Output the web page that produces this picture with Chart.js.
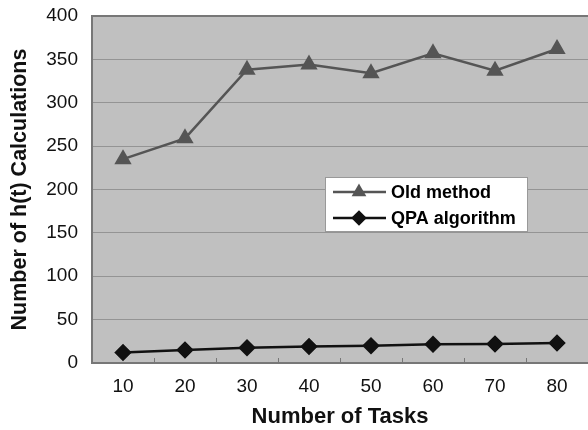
<!DOCTYPE html>
<html lang="en">
<head>
    <meta charset="UTF-8">
    <title>Number of h(t) Calculations</title>
    <script src="https://cdn.jsdelivr.net/npm/chart.js"></script>
    <style>
        html, body {
            margin: 0;
            overflow: hidden;
            background-color: white;
        }
        .chart-container {
            position: relative;
            width: 588px;
            height: 430px;
        }
    </style>
</head>
<body>
    <div class="chart-container">
        <canvas id="chart"></canvas>
    </div>

    <script>
        // Data
        const taskCounts = ['10', '20', '30', '40', '50', '60', '70', '80'];
        const oldMethod = [235, 259, 338, 344, 334, 357, 337, 362];
        const qpaAlgorithm = [12, 15, 17.5, 19, 20, 21.5, 22, 23];
        const yTicks = [0, 50, 100, 150, 200, 250, 300, 350, 400];

        const fontFamily = "'Liberation Sans', Arial, sans-serif";

        // Gray plot background, top border and small inner tick marks
        const plotDecor = {
            id: 'plotDecor',
            beforeDraw(chart) {
                const { ctx, chartArea: a } = chart;
                ctx.save();
                ctx.fillStyle = '#c0c0c0';
                ctx.fillRect(a.left, a.top, a.right - a.left, a.bottom - a.top);
                ctx.restore();
            },
            afterDatasetsDraw(chart) {
                const { ctx, chartArea: a, scales } = chart;
                const x = scales.x;
                const half = (x.getPixelForValue(1) - x.getPixelForValue(0)) / 2;
                ctx.save();
                ctx.strokeStyle = '#777';
                ctx.lineWidth = 1;
                for (let i = 1; i < taskCounts.length; i++) {
                    const px = Math.round(x.getPixelForValue(i) - half) + 0.5;
                    ctx.beginPath();
                    ctx.moveTo(px, a.bottom);
                    ctx.lineTo(px, a.bottom - 5);
                    ctx.stroke();
                }
                ctx.lineWidth = 2;
                ctx.beginPath();
                ctx.moveTo(a.left, a.top);
                ctx.lineTo(a.right, a.top);
                ctx.stroke();
                ctx.restore();
            }
        };

        // Legend box inside the plot area
        const innerLegend = {
            id: 'innerLegend',
            afterDraw(chart) {
                const { ctx } = chart;
                const left = 325, top = 177, w = 202, h = 54;
                ctx.save();
                ctx.fillStyle = 'white';
                ctx.fillRect(left, top, w, h);
                ctx.strokeStyle = '#999';
                ctx.lineWidth = 1;
                ctx.strokeRect(left + 0.5, top + 0.5, w, h);
                chart.data.datasets.forEach((ds, i) => {
                    const cy = top + 15 + i * 26;
                    ctx.strokeStyle = ds.borderColor;
                    ctx.lineWidth = 2.5;
                    ctx.beginPath();
                    ctx.moveTo(333, cy);
                    ctx.lineTo(386, cy);
                    ctx.stroke();
                    ctx.fillStyle = ds.pointBackgroundColor;
                    ctx.strokeStyle = ds.pointBorderColor;
                    Chart.helpers.drawPoint(ctx, {
                        pointStyle: ds.pointStyle,
                        radius: 6,
                        borderWidth: 1
                    }, 359, cy);
                    ctx.fillStyle = 'black';
                    ctx.font = 'bold 18px ' + fontFamily;
                    ctx.textBaseline = 'middle';
                    ctx.fillText(ds.label, 391, cy + 1);
                });
                ctx.restore();
            }
        };

        const chart = new Chart(document.getElementById('chart'), {
            type: 'line',
            data: {
                labels: taskCounts,
                datasets: [
                    {
                        label: 'Old method',
                        data: oldMethod,
                        borderColor: '#555555',
                        backgroundColor: '#555555',
                        pointBackgroundColor: '#555555',
                        pointBorderColor: '#555555',
                        pointStyle: 'triangle',
                        pointRadius: 7.5,
                        borderWidth: 2.5,
                        tension: 0
                    },
                    {
                        label: 'QPA algorithm',
                        data: qpaAlgorithm,
                        borderColor: '#111111',
                        backgroundColor: '#111111',
                        pointBackgroundColor: '#111111',
                        pointBorderColor: '#111111',
                        pointStyle: 'rectRot',
                        pointRadius: 7,
                        borderWidth: 2.5,
                        tension: 0
                    }
                ]
            },
            options: {
                responsive: true,
                maintainAspectRatio: false,
                animation: false,
                layout: {
                    autoPadding: false,
                    padding: { top: 16, right: 0, left: 7, bottom: 0 }
                },
                plugins: {
                    legend: { display: false },
                    tooltip: { enabled: false }
                },
                scales: {
                    x: {
                        offset: true,
                        grid: { display: false, offset: true },
                        border: { display: true, color: '#777', width: 2 },
                        ticks: {
                            color: '#111',
                            font: { family: fontFamily, size: 19 },
                            padding: 4
                        },
                        title: {
                            display: true,
                            text: 'Number of Tasks',
                            color: '#111',
                            font: { family: fontFamily, size: 22, weight: 'bold' },
                            padding: { top: 6, bottom: 0 }
                        },
                        afterFit(axis) {
                            axis.height = 67;
                            axis.paddingLeft = 0;
                            axis.paddingRight = 0;
                        }
                    },
                    y: {
                        min: 0,
                        max: 400,
                        afterBuildTicks(axis) {
                            axis.ticks = yTicks.map(v => ({ value: v }));
                        },
                        grid: {
                            color: '#949494',
                            lineWidth: 1,
                            drawTicks: false
                        },
                        border: { display: true, color: '#777', width: 2 },
                        ticks: {
                            color: '#111',
                            font: { family: fontFamily, size: 19 },
                            padding: 14
                        },
                        title: {
                            display: true,
                            text: 'Number of h(t) Calculations',
                            color: '#111',
                            font: { family: fontFamily, size: 21.5, weight: 'bold' },
                            padding: { top: 0, bottom: 8 }
                        },
                        afterFit(axis) {
                            axis.width = 85;
                            axis.paddingTop = 0;
                            axis.paddingBottom = 0;
                        }
                    }
                }
            },
            plugins: [plotDecor, innerLegend]
        });
    </script>
</body>
</html>
